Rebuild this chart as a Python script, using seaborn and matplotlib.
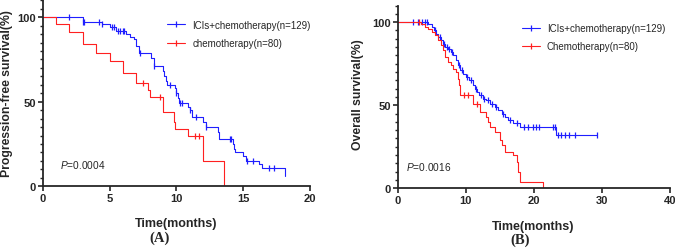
#### #### #### #### #### #### #### #### #### #### #### #### #### #### #### ####
### Import functions

import numpy as np
import matplotlib
matplotlib.use('Agg')
import matplotlib.pyplot as plt
from matplotlib.lines import Line2D
from matplotlib.ticker import MultipleLocator
import seaborn as sns


#### #### #### #### #### #### #### #### #### #### #### #### #### #### #### ####
#### DATA

# (A) Progression-free survival, ICIs + chemotherapy
pfs_ici_time = [0, 3.0, 4.4, 5.0, 5.5, 6.2, 6.5, 6.8, 7.0, 7.2, 8.1, 8.3, 9.0, 9.1,
                9.2, 9.3, 9.9, 10.0, 10.1, 10.2, 10.9, 11.0, 11.2, 12.0, 12.2, 13.1,
                13.2, 14.2, 14.3, 14.4, 15.0, 15.2, 16.2, 16.4, 18.1]
pfs_ici_surv = [100, 97, 96, 94, 92, 90, 88, 87, 83, 79, 76, 71, 68, 65,
                62, 60, 58, 55, 52, 49, 47, 45, 41, 38, 35, 32,
                28, 25, 22, 20, 18, 15, 13, 11, 6]
pfs_ici_cens = [2.0, 3.0, 3.1, 4.2, 4.4, 5.2, 5.3, 5.6, 5.8, 6.0, 6.1, 7.3, 8.3,
                9.5, 10.0, 10.3, 10.4, 11.0, 11.5, 12.2, 14.0, 14.1, 15.3, 15.7,
                16.9, 17.3]

# (A) Progression-free survival, chemotherapy
pfs_chemo_time = [0, 1.0, 2.0, 3.0, 4.0, 5.0, 6.0, 7.0, 7.9, 8.0, 9.0, 9.8, 9.9,
                  10.9, 12.0, 13.6]
pfs_chemo_surv = [100, 96, 91, 84, 79, 74, 67, 61, 57, 53, 44, 38, 34,
                  30, 15, 0]
pfs_chemo_cens = [7.5, 8.8, 11.4, 11.7]

# (B) Overall survival, ICIs + chemotherapy
os_ici_time = [0, 4.5, 5.0, 5.3, 5.6, 6.0, 6.3, 6.6, 7.0, 7.4, 7.8, 8.2, 8.6, 8.9,
               9.2, 9.6, 10.0, 10.5, 11.0, 11.3, 11.6, 12.0, 12.5, 13.0, 13.5, 14.3,
               14.8, 15.3, 15.8, 16.2, 17.0, 18.0, 23.3, 29.2]
os_ici_surv = [100, 99, 97, 95, 93, 91, 89, 87, 85, 84, 82, 80, 77, 74,
               71, 69, 67, 65, 62, 60, 58, 56, 54, 53, 51, 49,
               47, 45, 43, 41, 39, 37, 32, 32]
os_ici_cens = [2.2, 3.0, 3.6, 4.0, 4.3, 5.5, 6.2, 6.8, 7.2, 7.6, 8.0, 9.0, 9.4,
               10.2, 10.8, 11.5, 12.2, 12.7, 13.2, 13.8, 14.5, 15.5, 16.5, 17.5,
               18.5, 19.2, 19.8, 20.3, 20.8, 22.8, 23.1, 23.6, 24.0, 24.5, 25.2,
               26.0, 29.2]

# (B) Overall survival, chemotherapy
os_chemo_time = [0, 3.5, 4.0, 4.5, 5.0, 5.5, 6.0, 6.3, 6.6, 7.0, 7.4, 7.8, 8.2,
                 8.6, 8.8, 9.0, 9.2, 11.0, 12.1, 13.0, 13.3, 13.6, 14.3, 15.0,
                 15.3, 15.8, 17.0, 17.5, 17.7, 18.0, 21.3]
os_chemo_surv = [100, 99, 97, 96, 94, 92, 89, 86, 83, 79, 76, 74, 72,
                 70, 66, 62, 56, 51, 46, 43, 40, 37, 34, 29,
                 26, 22, 20, 16, 10, 4, 0]
os_chemo_cens = [3.1, 9.8, 10.4, 11.6]

labels_A = ['ICIs+chemotherapy(n=129)', 'chemotherapy(n=80)']
labels_B = ['ICIs+chemotherapy(n=129)', 'Chemotherapy(n=80)']
p_A = '0.0004'
p_B = '0.0016'

col_ici = '#1f1fff'
col_chemo = '#ff2020'


#### #### #### #### #### #### #### #### #### #### #### #### #### #### #### ####
#### PLOT

sns.set_style("ticks")
plt.rcParams['font.family'] = ['Liberation Sans', 'DejaVu Sans']
plt.rcParams['mathtext.fontset'] = 'custom'
plt.rcParams['mathtext.it'] = 'Liberation Sans:italic'
plt.rcParams['mathtext.rm'] = 'Liberation Sans'


def step_value(times, surv, t):
    idx = np.searchsorted(times, t, side='right') - 1
    return surv[idx]


def draw_km(ax, times, surv, cens, color):
    sns.lineplot(x=times, y=surv, drawstyle='steps-post', color=color, lw=0.8,
                 estimator=None, sort=False, ax=ax)
    cens_y = [step_value(times, surv, c) for c in cens]
    ax.plot(cens, cens_y, ls='none', marker='|', ms=4.5, mew=0.9, color=color)


def style_axis(ax, xmax, xstep):
    ax.set_xlim(0, xmax)
    ax.set_ylim(0, 110)
    ax.xaxis.set_major_locator(MultipleLocator(xstep))
    ax.yaxis.set_major_locator(MultipleLocator(50))
    ax.yaxis.set_minor_locator(MultipleLocator(5))
    sns.despine(ax=ax)
    for s in ['left', 'bottom']:
        ax.spines[s].set_linewidth(1.3)
    ax.tick_params(which='major', length=3.5, width=1.2, pad=1.5, labelsize=8)
    ax.tick_params(which='minor', length=2, width=1.0)
    ax.tick_params(axis='x', which='minor', length=0)
    for lab in ax.get_xticklabels() + ax.get_yticklabels():
        lab.set_fontweight('bold')


def add_legend(ax, labels, x, y):
    handles = [Line2D([0], [0], color=col_ici, lw=0.8, marker='|', ms=5, mew=0.9),
               Line2D([0], [0], color=col_chemo, lw=0.8, marker='|', ms=5, mew=0.9)]
    ax.legend(handles, labels, loc='upper left', bbox_to_anchor=(x, y),
              frameon=False, fontsize=7, handlelength=1.9, handletextpad=0.7,
              labelspacing=0.85, borderpad=0, borderaxespad=0, numpoints=1)


fg = plt.figure(figsize=(6.75, 2.53), dpi=100)

axA = fg.add_axes([0.0633, 0.26, 0.396, 0.735])
axB = fg.add_axes([0.589, 0.252, 0.404, 0.722])

# Panel A

draw_km(axA, pfs_ici_time, pfs_ici_surv, pfs_ici_cens, col_ici)
draw_km(axA, pfs_chemo_time, pfs_chemo_surv, pfs_chemo_cens, col_chemo)
style_axis(axA, 20, 5)
add_legend(axA, labels_A, 0.465, 0.895)
axA.text(1.3, 13, r'$\mathit{P}$=' + p_A, fontsize=7.3, va='center', ha='left')

axA.set_xlabel('Time(months)', fontsize=9, fontweight='bold', va='center')
axA.xaxis.set_label_coords(0.5, -0.197)
axA.set_ylabel('Progression-free survival(%)', fontsize=8.8, fontweight='bold', va='center')
axA.yaxis.set_label_coords(-0.135, 0.505)

# Panel B

draw_km(axB, os_ici_time, os_ici_surv, os_ici_cens, col_ici)
draw_km(axB, os_chemo_time, os_chemo_surv, os_chemo_cens, col_chemo)
style_axis(axB, 40, 10)
add_legend(axB, labels_B, 0.455, 0.905)
axB.text(1.3, 13.6, r'$\mathit{P}$=' + p_B, fontsize=7.3, va='center', ha='left')

axB.set_xlabel('Time(months)', fontsize=9, fontweight='bold', va='center')
axB.xaxis.set_label_coords(0.497, -0.206)
axB.set_ylabel('Overall survival(%)', fontsize=8.8, fontweight='bold', va='center')
axB.yaxis.set_label_coords(-0.145, 0.516)

# Panel letters

fg.text(0.236, 0.059, '(A)', fontsize=10.5, fontweight='bold',
        family=['Liberation Serif', 'DejaVu Serif'], ha='center', va='center')
fg.text(0.770, 0.051, '(B)', fontsize=10.5, fontweight='bold',
        family=['Liberation Serif', 'DejaVu Serif'], ha='center', va='center')

plt.savefig('out.png', dpi=100)
